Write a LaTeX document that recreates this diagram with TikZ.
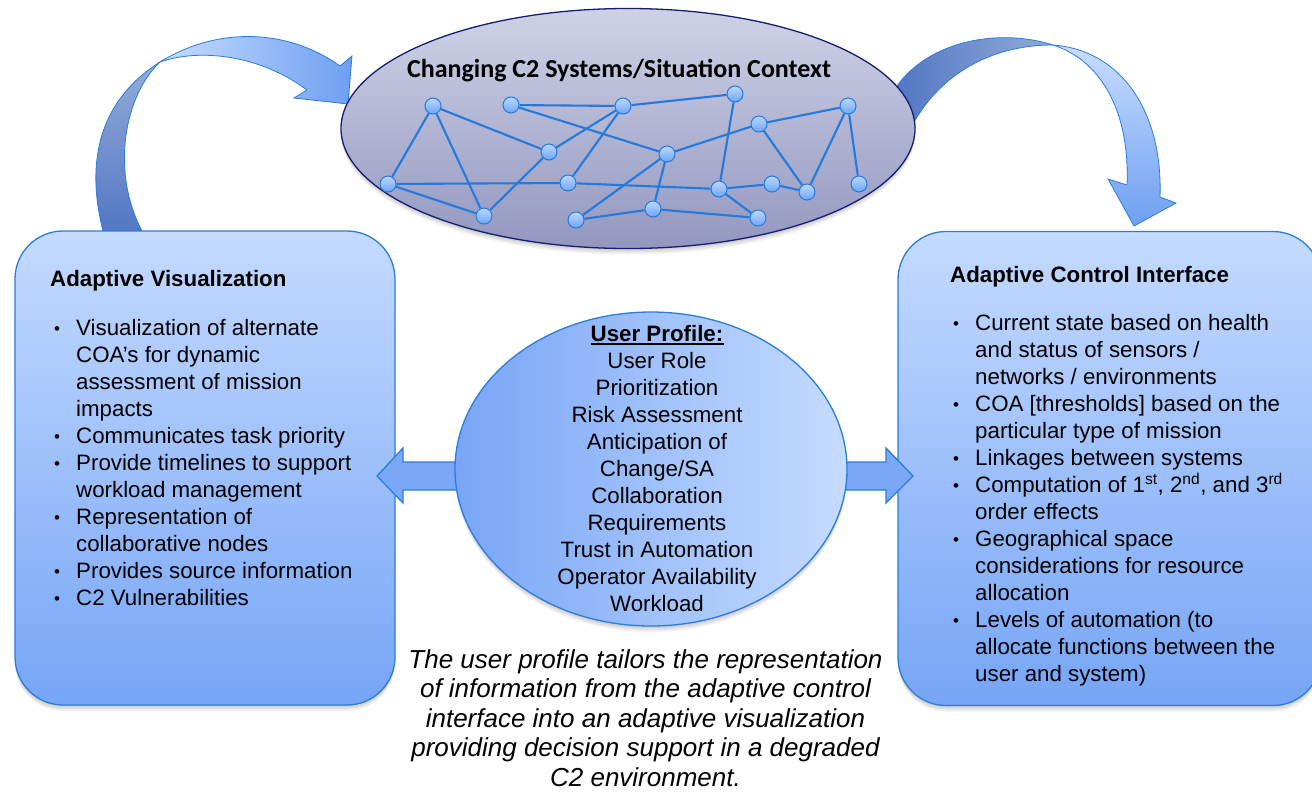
\documentclass[tikz,border=0pt]{standalone}
\usepackage{fontspec}
\setmainfont{Liberation Sans}
\newfontfamily\calfont{Carlito}
\usetikzlibrary{shapes.geometric,shadows}
\definecolor{boxline}{HTML}{2A7DDA}
\definecolor{boxtop}{HTML}{C4DAFF}
\definecolor{boxbot}{HTML}{76A5F6}
\definecolor{netline}{HTML}{2479DC}
\definecolor{nodetop}{HTML}{BCD7FF}
\definecolor{nodebot}{HTML}{6CA6F6}
\definecolor{ctxtop}{HTML}{CFD2E6}
\definecolor{ctxbot}{HTML}{9397BF}
\definecolor{ctxline}{HTML}{141E72}
\definecolor{upleft}{HTML}{78A5F6}
\definecolor{upright}{HTML}{C6DCFF}
\definecolor{legtop}{HTML}{93ABD8}
\definecolor{legbot}{HTML}{5377C4}
\definecolor{ribbonlight}{HTML}{C8DDFF}
\definecolor{ribbonmid}{HTML}{6E9FF1}
\definecolor{dblfill}{HTML}{7AA8F7}
\begin{document}
\begin{tikzpicture}[x=1pt,y=-1pt,
  softshadow/.style={
    general shadow={fill=black,opacity=.07,shadow yshift=-2pt},
    general shadow={fill=black,opacity=.07,shadow yshift=-4pt},
    general shadow={fill=black,opacity=.06,shadow yshift=-6pt}},
  txt/.style={anchor=base west,inner sep=0pt,font=\fontsize{22.3}{27}\selectfont},
  bul/.style={anchor=base west,inner sep=0pt,font=\fontsize{17}{27}\selectfont},
  ctxt/.style={anchor=base,inner sep=0pt,font=\fontsize{22.3}{27}\selectfont},
  note/.style={anchor=base,inner sep=0pt,font=\fontsize{26}{30}\selectfont\itshape},
  boxtitle/.style={anchor=base west,inner sep=0pt,font=\fontsize{22.3}{27}\selectfont\bfseries},
  box/.style={draw=boxline,line width=1.3pt,rounded corners=48pt,top color=boxtop,bottom color=boxbot,inner sep=0pt,softshadow},
  netnode/.style={circle,draw=netline,line width=1pt,top color=nodetop,bottom color=nodebot,minimum size=16pt,inner sep=0pt},
  netedge/.style={draw=netline,line width=2.1pt},
  ribbon/.style={draw=boxline,line width=0.8pt},
  dblarrow/.style={draw=boxline,line width=1.3pt,fill=dblfill}]
\useasboundingbox (0,0) rectangle (1312,796);
\fill[white] (0,0) rectangle (1312,796);

% ---- curved arrow from left box to context ellipse
\path[ribbon,top color=legtop,bottom color=legbot]
  (103,231) .. controls (85,160) and (100,100) .. (160,62)
  .. controls (125,95) and (110,170) .. (142,231) -- cycle;
\path[ribbon,left color=ribbonlight,right color=ribbonmid]
  (160,62) .. controls (220,25) and (290,30) .. (340,66)
  -- (352,56) -- (348,104) -- (294,98) -- (307,90)
  .. controls (260,55) and (200,48) .. (160,62) -- cycle;

% ---- curved arrow from context ellipse to right box
\path[ribbon,left color=legbot,right color=legtop]
  (897,86) .. controls (930,40) and (1000,28) .. (1053,45)
  .. controls (990,45) and (940,75) .. (913,124) -- cycle;
\path[ribbon,top color=ribbonlight,bottom color=ribbonmid]
  (1053,45) .. controls (1120,50) and (1163,110) .. (1160,197)
  -- (1176,203) -- (1134,226) -- (1108,179) -- (1127,185)
  .. controls (1130,110) and (1100,60) .. (1053,45) -- cycle;

% ---- context ellipse with network
\node[ellipse,minimum width=574pt,minimum height=240pt,draw=ctxline,line width=1.3pt,
      top color=ctxtop,bottom color=ctxbot,inner sep=0pt,softshadow] (ctx) at (628,128.5) {};
\node[anchor=base,inner sep=0pt,font=\fontsize{26}{30}\selectfont\calfont\bfseries] (ctxtitle) at (619,77)
  {Changing C2 Systems/Situation Context};

\foreach \n/\x/\y in {A/433/106,B/511/105,C/623/106,D/735/94,E/848/106,F/759/124,
  G/549/152,H/667/154,I/388/184,J/568/183,K/719/189,L/772/184,M/807/192,N/859/184,
  O/484/216,P/576/220,Q/653/209,R/758/218}
  \node[netnode] (\n) at (\x,\y) {};
\foreach \a/\b in {A/I,A/O,A/G,B/C,B/H,C/D,C/G,C/J,D/K,E/F,E/M,E/N,F/H,F/M,G/O,
  I/J,J/K,I/O,K/L,L/M,K/R,H/P,H/Q,P/Q,Q/R}
  \draw[netedge] (\a) -- (\b);

% ---- side boxes
\node[box,minimum width=380pt,minimum height=474pt] (lbox) at (205,468) {};
\node[box,minimum width=423pt,minimum height=474pt] (rbox) at (1109.5,468.5) {};

\node[boxtitle] (ltitle) at (50,286) {Adaptive Visualization};
\foreach \t [count=\i] in {{Visualization of alternate},{COA’s for dynamic},
  {assessment of mission},{impacts},{Communicates task priority},
  {Provide timelines to support},{workload management},{Representation of},
  {collaborative nodes},{Provides source information},{C2 Vulnerabilities}}
  \node[txt] (lt\i) at (76,{335+27*(\i-1)}) {\t};
\foreach \y [count=\i] in {335,443,470,524,578,605}
  \node[bul] (lb\i) at (54,\y-1) {•};

\node[boxtitle] (rtitle) at (950,282) {Adaptive Control Interface};
\foreach \t [count=\i] in {{Current state based on health},{and status of sensors /},
  {networks / environments},{COA [thresholds] based on the},{particular type of mission},
  {Linkages between systems},
  {Computation of 1\textsuperscript{st}, 2\textsuperscript{nd}, and 3\textsuperscript{rd}},
  {order effects},{Geographical space},{considerations for resource},{allocation},
  {Levels of automation (to},{allocate functions between the},{user and system)}}
  \node[txt] (rt\i) at (975,{330+27*(\i-1)}) {\t};
\foreach \y [count=\i] in {330,411,465,492,546,627}
  \node[bul] (rb\i) at (953,\y-1) {•};

% ---- block arrows from the user profile
\path[dblarrow] (470,462) -- (403,462) -- (403,448) -- (377,476) -- (403,503) -- (403,490) -- (470,490) -- cycle;
\path[dblarrow] (830,462) -- (886,462) -- (886,448) -- (913,476) -- (886,503) -- (886,490) -- (830,490) -- cycle;

% ---- user profile ellipse
\node[ellipse,minimum width=392pt,minimum height=314pt,draw=boxline,line width=1.3pt,
      left color=upleft,right color=upright,inner sep=0pt,softshadow] (up) at (651,469) {};
\node[ctxt,font=\fontsize{22.3}{27}\selectfont\bfseries] (uptitle) at (657,341) {User Profile:};
\draw[line width=1.5pt] ([yshift=-3pt]uptitle.base west) -- ([yshift=-3pt]uptitle.base east);
\foreach \t [count=\i] in {{User Role},{Prioritization},{Risk Assessment},{Anticipation of},
  {Change/SA},{Collaboration},{Requirements},{Trust in Automation},
  {Operator Availability},{Workload}}
  \node[ctxt] (up\i) at (657,{368+27*(\i-1)}) {\t};

% ---- note below
\foreach \t [count=\i] in {{The user profile tailors the representation},
  {of information from the adaptive control},{interface into an adaptive visualization},
  {providing decision support in a degraded},{C2 environment.}}
  \node[note] (nt\i) at (645.5,{668+29.5*(\i-1)}) {\t};
\end{tikzpicture}
\end{document}
